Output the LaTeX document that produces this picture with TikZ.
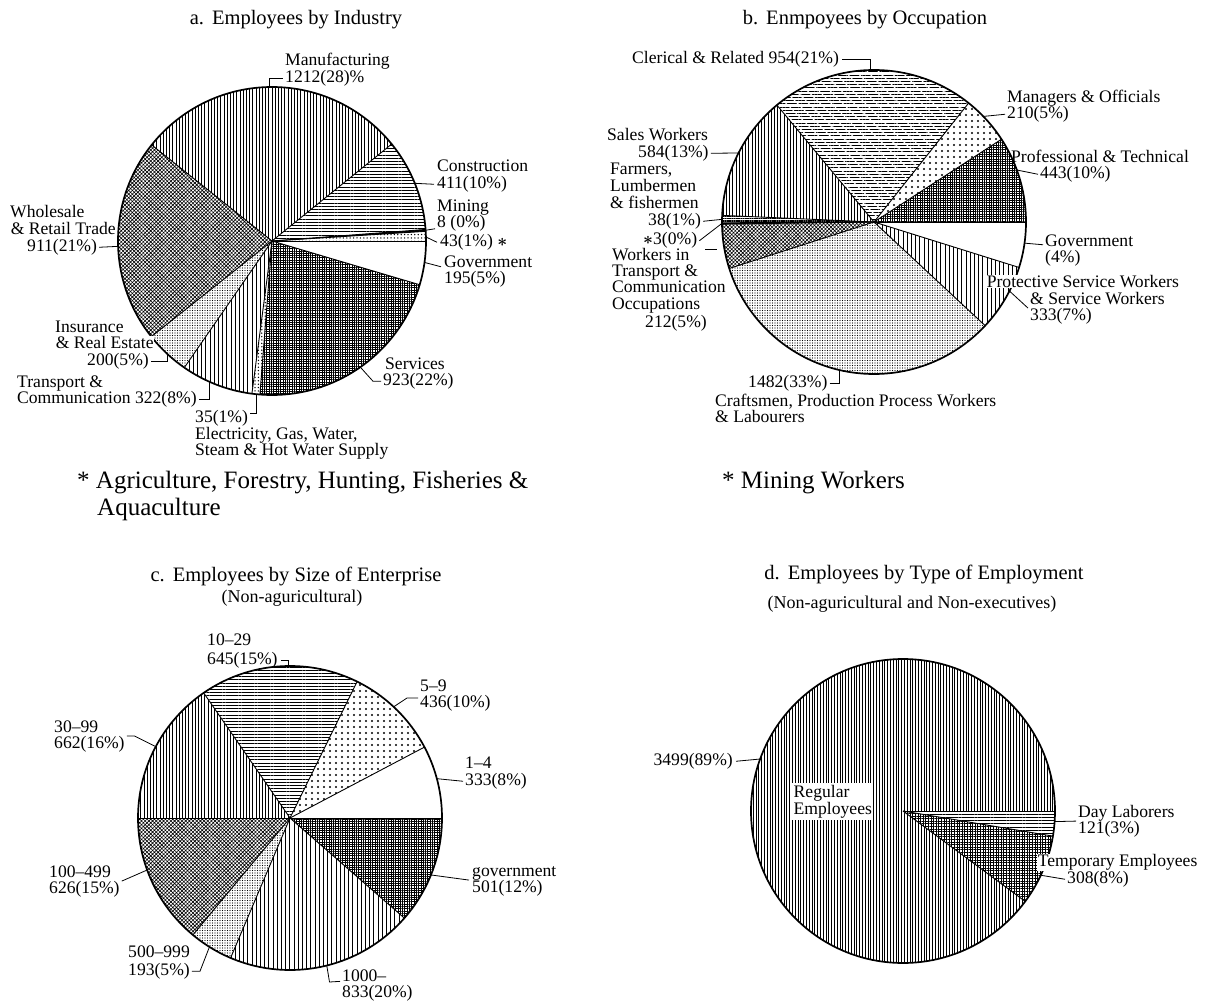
\documentclass[tikz,border=0pt]{standalone}
\usepackage{fontspec}
\setmainfont{Liberation Serif}
\usetikzlibrary{patterns,patterns.meta}
\newcommand{\pieslice}[5]{\fill[#5] (#1) -- ++(#3:#2) arc[start angle=#3,end angle=#4,radius=#2] -- cycle;}
\newcommand{\mystrut}{\rule{0pt}{13pt}}
\begin{document}
\begin{tikzpicture}[x=1pt,y=-1pt,
  bnd/.style={line width=0.9pt},
  rim/.style={line width=1.7pt},
  ldr/.style={line width=0.8pt},
  lbl/.style={font=\fontsize{17.6}{16}\selectfont,inner sep=0pt,anchor=base west},
  wlbl/.style={lbl,fill=white,inner sep=0.6pt},
  ttl/.style={font=\fontsize{20.5}{24}\selectfont,inner sep=0pt,anchor=base},
  subt/.style={font=\fontsize{18}{20}\selectfont,inner sep=0pt,anchor=base},
  fnote/.style={font=\fontsize{25}{27}\selectfont,inner sep=0pt,anchor=base west},
  pvl/.style={pattern={Lines[angle=90,distance=3.2pt,line width=0.7pt]}},
  pvld/.style={pattern={Lines[angle=90,distance=2.8pt,line width=0.7pt]}},
  pvls/.style={pattern={Lines[angle=90,distance=4.2pt,line width=0.85pt]}},
  phl/.style={pattern={Lines[angle=0,distance=3.2pt,line width=0.7pt]}},
  phld/.style={pattern={Lines[angle=0,distance=1.8pt,line width=0.8pt]}},
  pdiag/.style={pattern={Lines[angle=135,distance=8pt,line width=1pt]},pattern color=white},
  pmesh/.style={pattern={Hatch[angle=0,distance=2.3pt,line width=0.65pt]}},
  pmeshl/.style={pattern={Hatch[angle=0,distance=2.6pt,line width=0.4pt]}},
  pxh/.style={pattern={Hatch[angle=45,distance=2.6pt,line width=0.6pt]}},
  pfd/.style={pattern={Dots[distance=2.5pt,radius=0.6pt]}},
  pdt/.style={pattern={Dots[distance=3.4pt,radius=0.75pt]}},
  pbd/.style={pattern={Dots[distance=6pt,radius=1.15pt]}}]
\fill[white] (0,0) rectangle (1211,1003);
\useasboundingbox (0,0) rectangle (1211,1003);

% ---------------- a ----------------
\coordinate (ca) at (272,241);
\pieslice{ca}{154pt}{0}{3.6}{pdt}
\pieslice{ca}{154pt}{3.6}{4.3}{black}
\pieslice{ca}{154pt}{4.3}{39}{phl}
\pieslice{ca}{154pt}{39}{141.4}{pvl}
\pieslice{ca}{154pt}{141.4}{218.4}{pxh}
\pieslice{ca}{154pt}{218.4}{235.3}{pfd}
\pieslice{ca}{154pt}{235.3}{262.5}{pvls}
\pieslice{ca}{154pt}{262.5}{265.5}{pdt}
\pieslice{ca}{154pt}{265.5}{343.5}{pmesh}
\foreach \a in {0,3.6,4.3,39,141.4,218.4,235.3,262.5,265.5,343.5} {\draw[bnd] (ca) -- ++(\a:154pt);}
\draw[rim] (ca) circle[radius=154pt];

\node[ttl] (a-t) at (296,24.5) {a.\hspace{8pt}Employees by Industry};
\node[lbl] (a-l1) at (285,66) {Manufacturing};
\node[lbl] (a-l2) at (285,83) {1212(28)\%};
\node[lbl] (a-l3) at (437,172) {Construction};
\node[lbl] (a-l4) at (437,188.5) {411(10\%)};
\node[lbl] (a-l5) at (437,212) {Mining};
\node[lbl] (a-l6) at (437,228) {8 (0\%)};
\node[lbl] (a-l7) at (440,246.5) {43(1\%) {\boldmath$\ast$}};
\node[lbl] (a-l8) at (444,267.5) {Government};
\node[lbl] (a-l9) at (444,283.5) {195(5\%)};
\node[lbl] (a-l10) at (385,369.5) {Services};
\node[lbl] (a-l11) at (383,385.5) {923(22\%)};
\node[lbl] (a-l12) at (195,422.5) {35(1\%)};
\node[lbl] (a-l13) at (195,439.5) {Electricity, Gas, Water,};
\node[lbl] (a-l14) at (195,455.5) {Steam \& Hot Water Supply};
\node[lbl] (a-l15) at (17,387.5) {Transport \&};
\node[lbl] (a-l16) at (17,403.5) {Communication 322(8\%)};
\node[lbl] (a-l17) at (55,332.5) {Insurance};
\node[wlbl] (a-l18) at (55,348.5) {\& Real Estate};
\node[lbl] (a-l19) at (87,365.5) {200(5\%)};
\node[lbl] (a-l20) at (10,217.5) {Wholesale};
\node[wlbl] (a-l21) at (10,234.5) {\& Retail Trade};
\node[lbl] (a-l22) at (27,251.5) {911(21\%)};
\node[fnote] (fa1) at (77,488) {* Agriculture, Forestry, Hunting, Fisheries \&};
\node[fnote] (fa2) at (97,515) {Aquaculture};

\path (ca) ++(91:154pt) coordinate (a-p1);
\draw[ldr] (a-p1) |- ([xshift=-2pt]a-l2.west);
\path (ca) ++(22:154pt) coordinate (a-p2);
\draw[ldr] (a-p2) -- ([xshift=-3pt]a-l4.west);
\path (ca) ++(4:154pt) coordinate (a-p3);
\draw[ldr] (a-p3) -- ([xshift=-2pt,yshift=-5pt]a-l6.west);
\path (ca) ++(1.5:154pt) coordinate (a-p4);
\draw[ldr] (a-p4) -- ([xshift=-3pt]a-l7.west);
\path (ca) ++(-8:154pt) coordinate (a-p5);
\draw[ldr] (a-p5) -- ([xshift=-3pt,yshift=-5pt]a-l8.west);
\path (ca) ++(-55:154pt) coordinate (a-p6);
\draw[ldr] (a-p6) -- ([xshift=-10pt]a-l11.west) -- ([xshift=-2pt]a-l11.west);
\path (ca) ++(264:154pt) coordinate (a-p7);
\draw[ldr] (a-p7) |- ([xshift=2pt,yshift=5pt]a-l12.east);
\path (ca) ++(246:154pt) coordinate (a-p8);
\draw[ldr] (a-p8) |- ([xshift=2pt]a-l16.east);
\path (ca) ++(227:154pt) coordinate (a-p9);
\draw[ldr] (a-p9) |- ([xshift=2pt]a-l19.east);
\path (ca) ++(182:154pt) coordinate (a-p10);
\draw[ldr] (a-p10) -- ([xshift=2pt]a-l22.east);

% ---------------- b ----------------
\coordinate (cb) at (874,222);
\pieslice{cb}{152pt}{0}{33}{pmesh}
\pieslice{cb}{152pt}{33}{51.5}{pbd}
\pieslice{cb}{152pt}{51.5}{129.7}{phl}
\pieslice{cb}{152pt}{51.5}{129.7}{pdiag}
\pieslice{cb}{152pt}{129.7}{177.5}{pvl}
\pieslice{cb}{152pt}{177.5}{180.3}{phld}
\pieslice{cb}{152pt}{180.3}{180.8}{black}
\pieslice{cb}{152pt}{180.8}{197.8}{pxh}
\pieslice{cb}{152pt}{197.8}{317}{pfd}
\pieslice{cb}{152pt}{317}{342.6}{pvls}
\foreach \a in {0,33,51.5,129.7,177.5,180.3,180.8,197.8,317,342.6} {\draw[bnd] (cb) -- ++(\a:152pt);}
\draw[rim] (cb) circle[radius=152pt];

\node[ttl] (b-t) at (865,24.5) {b.\hspace{8pt}Enmpoyees by Occupation};
\node[lbl] (b-l1) at (632,63.5) {Clerical \& Related 954(21\%)};
\node[lbl] (b-l2) at (1007,102.5) {Managers \& Officials};
\node[lbl] (b-l3) at (1007,118.5) {210(5\%)};
\node[lbl] (b-l4) at (1011,162.5) {Professional \& Technical};
\node[lbl] (b-l5) at (1040,178.5) {443(10\%)};
\node[lbl] (b-l6) at (1045,246.5) {Government};
\node[lbl] (b-l7) at (1045,262.5) {(4\%)};
\node[wlbl] (b-l8) at (986,287.5) {Protective Service Workers};
\node[lbl] (b-l9) at (1030,304.5) {\& Service Workers};
\node[lbl] (b-l10) at (1030,320.5) {333(7\%)};
\node[lbl] (b-l11) at (748,387.5) {1482(33\%)};
\node[lbl] (b-l12) at (715,406) {Craftsmen, Production Process Workers};
\node[lbl] (b-l13) at (715,422) {\& Labourers};
\node[lbl] (b-l14) at (607,140.5) {Sales Workers};
\node[lbl] (b-l15) at (638,157.5) {584(13\%)};
\node[lbl] (b-l16) at (610,174.5) {Farmers,};
\node[lbl] (b-l17) at (610,191.5) {Lumbermen};
\node[lbl] (b-l18) at (610,208.5) {\& fishermen};
\node[lbl] (b-l19) at (648,225.5) {38(1\%)};
\node[lbl] (b-l20) at (643,245) {{\boldmath$\ast$}3(0\%)};
\node[lbl] (b-l21) at (612,261) {Workers in};
\node[lbl] (b-l22) at (612,277) {Transport \&};
\node[lbl] (b-l23) at (612,293) {Communication};
\node[lbl] (b-l24) at (612,309) {Occupations};
\node[lbl] (b-l25) at (645,327.5) {212(5\%)};
\node[fnote] (fb1) at (722,488) {* Mining Workers};

\path (cb) ++(91.5:152pt) coordinate (b-p1);
\draw[ldr] ([xshift=3pt]b-l1.east) -| (b-p1);
\path (cb) ++(44:152pt) coordinate (b-p2);
\draw[ldr] (b-p2) -- ([xshift=-2pt]b-l3.west);
\path (cb) ++(20:152pt) coordinate (b-p3);
\draw[ldr] (b-p3) -- ([xshift=-2pt]b-l5.west);
\path (cb) ++(-8:152pt) coordinate (b-p4);
\draw[ldr] (b-p4) -- ([xshift=-2pt,yshift=-4pt]b-l6.west);
\path (cb) ++(-27:152pt) coordinate (b-p5);
\draw[ldr] (b-p5) -- ([xshift=-2pt]b-l10.north west);
\path (cb) ++(257:152pt) coordinate (b-p6);
\draw[ldr] ([xshift=2pt]b-l11.east) -| (b-p6);
\path (cb) ++(153:152pt) coordinate (b-p7);
\draw[ldr] ([xshift=2pt]b-l15.east) -- (b-p7);
\path (cb) ++(179:152pt) coordinate (b-p8);
\draw[ldr] ([xshift=2pt]b-l19.east) -- (b-p8);
\path (cb) ++(180.5:152pt) coordinate (b-p9);
\draw[ldr] ([xshift=2pt]b-l20.east) -- (b-p9);
\coordinate (b-w1) at (705,249);
\coordinate (b-w2) at (717,249);
\draw[ldr] (b-w1) -- (b-w2);

% ---------------- c ----------------
\coordinate (cc) at (290,818);
\pieslice{cc}{152pt}{27.8}{63.8}{pbd}
\pieslice{cc}{152pt}{63.8}{124.6}{phl}
\pieslice{cc}{152pt}{124.6}{180}{pvl}
\pieslice{cc}{152pt}{180}{230.3}{pxh}
\pieslice{cc}{152pt}{230.3}{247}{pfd}
\pieslice{cc}{152pt}{247}{318.8}{pvls}
\pieslice{cc}{152pt}{318.8}{360}{pmesh}
\foreach \a in {0,27.8,63.8,124.6,180,230.3,247,318.8} {\draw[bnd] (cc) -- ++(\a:152pt);}
\draw[rim] (cc) circle[radius=152pt];

\node[ttl] (c-t) at (296,581.5) {c.\hspace{8pt}Employees by Size of Enterprise};
\node[subt] (c-s) at (292,602.5) {(Non-aguricultural)};
\node[lbl] (c-l1) at (207,645.5) {10--29};
\node[lbl] (c-l2) at (207,664.5) {645(15\%)};
\node[lbl] (c-l3) at (420,691.5) {5--9};
\node[lbl] (c-l4) at (420,707.5) {436(10\%)};
\node[lbl] (c-l5) at (465,768.5) {1--4};
\node[lbl] (c-l6) at (465,785.5) {333(8\%)};
\node[lbl] (c-l7) at (472,876.5) {government};
\node[lbl] (c-l8) at (472,892.5) {501(12\%)};
\node[lbl] (c-l9) at (342,981) {1000--};
\node[lbl] (c-l10) at (342,997) {833(20\%)};
\node[lbl] (c-l11) at (128,957.5) {500--999};
\node[lbl] (c-l12) at (128,975.5) {193(5\%)};
\node[lbl] (c-l13) at (49,877.5) {100--499};
\node[lbl] (c-l14) at (49,893.5) {626(15\%)};
\node[lbl] (c-l15) at (54,732.5) {30--99};
\node[lbl] (c-l16) at (54,748.5) {662(16\%)};

\path (cc) ++(90.5:152pt) coordinate (c-p1);
\draw[ldr] ([xshift=3pt]c-l2.east) -| (c-p1);
\path (cc) ++(47:152pt) coordinate (c-p2);
\coordinate (c-k2) at (407,698);
\coordinate (c-e2) at (418,698);
\draw[ldr] (c-p2) -- (c-k2) -- (c-e2);
\path (cc) ++(15:152pt) coordinate (c-p3);
\draw[ldr] (c-p3) -- ([xshift=-2pt]c-l6.west);
\path (cc) ++(-22:152pt) coordinate (c-p4);
\draw[ldr] (c-p4) -- ([xshift=-3pt]c-l8.north west);
\path (cc) ++(-76:152pt) coordinate (c-p5);
\coordinate (c-k5) at (329.5,982);
\draw[ldr] (c-p5) -- (c-k5) -- ([xshift=-2pt]c-l9.south west);
\path (cc) ++(238:152pt) coordinate (c-p6);
\draw[ldr] ([xshift=2pt]c-l12.east) -- ++(8pt,0) -- (c-p6);
\path (cc) ++(200:152pt) coordinate (c-p7);
\draw[ldr] ([xshift=2pt]c-l14.north east) -- (c-p7);
\path (cc) ++(152:152pt) coordinate (c-p8);
\draw[ldr] ([xshift=2pt]c-l16.north east) -- ++(8pt,0) -- (c-p8);

% ---------------- d ----------------
\coordinate (cd) at (903,811);
\pieslice{cd}{152pt}{0}{323.5}{pvld}
\pieslice{cd}{152pt}{323.5}{350.5}{pmeshl}
\pieslice{cd}{152pt}{350.5}{360}{phl}
\foreach \a in {0,323.5,350.5} {\draw[bnd] (cd) -- ++(\a:152pt);}
\draw[rim] (cd) circle[radius=152pt];

\node[ttl] (d-t) at (924,579.5) {d.\hspace{8pt}Employees by Type of Employment};
\node[subt] (d-s) at (912,608.5) {(Non-aguricultural and Non-executives)};
\node[lbl,anchor=base east] (d-l1) at (733,765.5) {3499(89\%)};
\node[lbl,fill=white,inner sep=1.5pt,align=left,anchor=north west] (d-l2) at (792,783) {\mystrut Regular\\Employees};
\node[lbl] (d-l3) at (1078,817.5) {Day Laborers};
\node[lbl] (d-l4) at (1078,833.5) {121(3\%)};
\node[wlbl] (d-l5) at (1037,866.5) {Temporary Employees};
\node[lbl] (d-l6) at (1067,883.5) {308(8\%)};

\path (cd) ++(160:152pt) coordinate (d-p1);
\draw[ldr] ([xshift=3pt]d-l1.east) -- (d-p1);
\path (cd) ++(-4:152pt) coordinate (d-p2);
\draw[ldr] (d-p2) -- ([xshift=-2pt]d-l4.north west);
\path (cd) ++(-25:152pt) coordinate (d-p3);
\draw[ldr] (d-p3) -- ([xshift=-2pt]d-l6.west);
\end{tikzpicture}
\end{document}
